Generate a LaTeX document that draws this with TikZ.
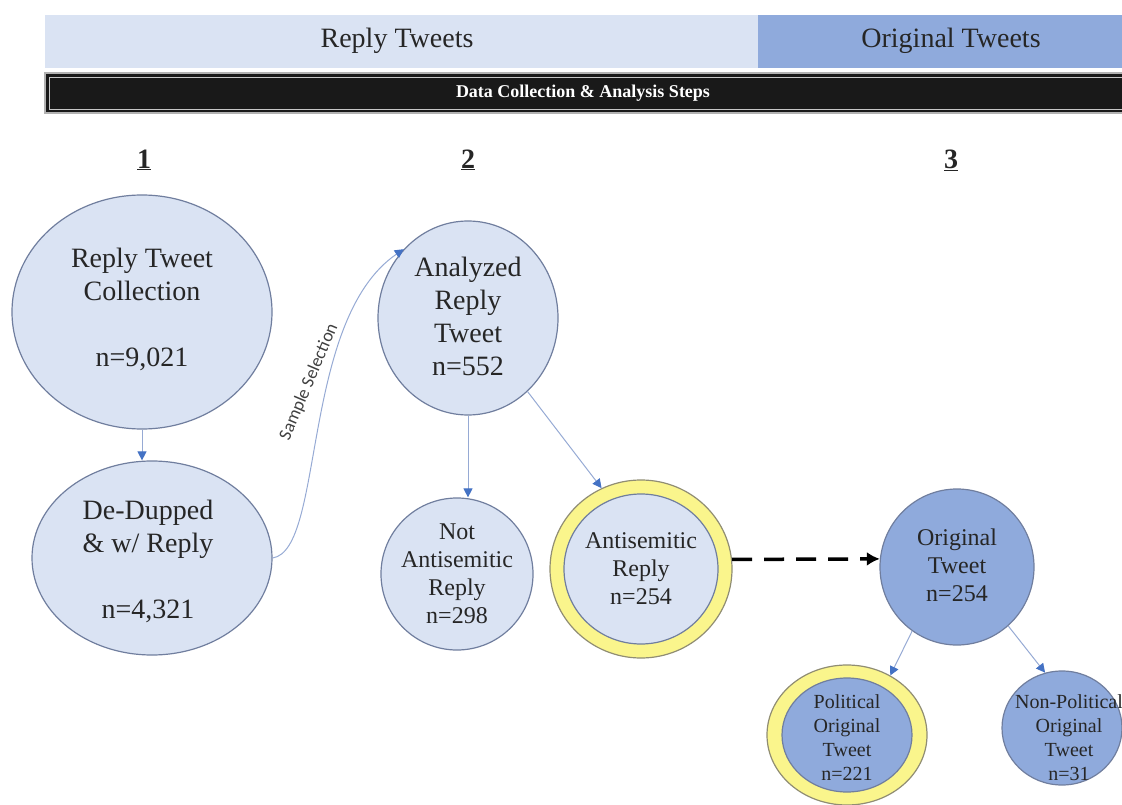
\documentclass[tikz,border=0pt]{standalone}
\usepackage{fontspec}
\setmainfont{Liberation Serif}
\newfontfamily\lblfont{Carlito}
\usetikzlibrary{positioning, arrows.meta, shapes.geometric}
\definecolor{rplb}{RGB}{218,227,243}
\definecolor{orgb}{RGB}{143,170,220}
\definecolor{rimg}{RGB}{112,126,158}
\definecolor{hlyel}{RGB}{250,245,140}
\definecolor{flowb}{RGB}{68,114,196}
\definecolor{flowl}{RGB}{150,170,212}

\tikzset{
  bubble/.style={ellipse, draw=rimg, line width=1.2pt, fill=rplb, inner sep=0pt},
  ring/.style={ellipse, draw=gray!80!olive, line width=1.2pt, fill=hlyel, inner sep=0pt},
  flow/.style={draw=flowl, line width=1pt, -{Triangle[length=9pt,width=9pt,color=flowb]}},
  txtL/.style={font=\fontsize{28}{33}\selectfont, align=center, text=black!85},
  txtM/.style={font=\fontsize{24}{28}\selectfont, align=center, text=black!85},
  txtS/.style={font=\fontsize{20}{24}\selectfont, align=center, text=black!85},
}

\begin{document}
\begin{tikzpicture}[x=1pt, y=-1pt]
  \useasboundingbox (0,0) rectangle (1122,805);
  % header bands
  \draw[fill=rplb, draw=none] (45,15) rectangle (758,68);
  \draw[fill=orgb, draw=none] (758,15) rectangle (1122,68);
  \node[font=\fontsize{28}{30}\selectfont, text=black!85] (hdrReply) at (397,41) {Reply Tweets};
  \node[font=\fontsize{28}{30}\selectfont, text=black!85] (hdrOrig) at (951,41) {Original Tweets};
  \draw[fill=black!90, draw=gray!60, line width=1.5pt] (45,73) rectangle (1126,113);
  \draw[draw=gray!45, line width=0.8pt] (49,77) rectangle (1126,109);
  \node[text=white, font=\bfseries\fontsize{18}{20}\selectfont] (steps) at (583,93)
    {Data Collection \& Analysis Steps};
  % step numbers
  \foreach \n/\x in {1/144, 2/468, 3/951}
    \node[font=\bfseries\fontsize{28}{30}\selectfont, text=black!85] (num\n) at (\x,160) {\underline{\n}};

  % step 1
  \node[bubble, minimum width=260pt, minimum height=234pt] (coll) at (142,312) {};
  \node[txtL] (collTxt) at (142,309) {Reply Tweet\\Collection\\[33pt]n=9,021};
  \node[bubble, minimum width=240pt, minimum height=194pt] (dedup) at (152,558) {};
  \node[txtL] (dedupTxt) at (148,561) {De-Dupped\\\& w/ Reply\\[33pt]n=4,321};

  % step 2
  \node[bubble, minimum width=180pt, minimum height=194pt] (ana) at (468,318) {};
  \node[txtL] (anaTxt) at (468,316) {Analyzed\\Reply\\Tweet\\n=552};
  \node[bubble, minimum width=152pt, minimum height=152pt] (notA) at (457,574) {};
  \node[txtM] (notATxt) at (notA) {Not\\Antisemitic\\Reply\\n=298};
  \node[ring, minimum width=182pt, minimum height=178pt] (anti) at (641,569) {};
  \node[bubble, minimum width=154pt, minimum height=150pt] (antiIn) at (anti) {};
  \node[txtM] (antiTxt) at (antiIn) {Antisemitic\\Reply\\n=254};

  % step 3
  \node[bubble, fill=orgb, minimum width=154pt, minimum height=156pt] (orig) at (957,567) {};
  \node[txtM] (origTxt) at (957,565) {Original\\Tweet\\n=254};
  \node[ring, minimum width=160pt, minimum height=140pt] (pol) at (847,735) {};
  \node[bubble, fill=orgb, minimum width=130pt, minimum height=114pt] (polIn) at (pol) {};
  \node[txtS] (polTxt) at (847,738) {Political\\Original\\Tweet\\n=221};
  \node[bubble, fill=orgb, minimum width=120pt, minimum height=114pt] (nonpol) at (1062,728) {};
  \node[txtS] (nonpolTxt) at (1069,738) {Non-Political\\Original\\Tweet\\n=31};

  % connectors
  \draw[flow] (coll.south) -- (coll.south |- dedup.north);
  \draw[flow] (dedup.east) .. controls (325,550) and (300,320) .. (ana.133);
  \node[font=\lblfont\fontsize{18}{20}\selectfont, rotate=67, text=black!75] (selLbl) at (309,382)
    {Sample Selection};
  \draw[flow] (ana.south) -- (ana.south |- notA.north);
  \draw[flow] (ana.-51) -- (anti.116);
  \draw[line width=3.5pt, dash pattern=on 20pt off 12pt, -{Latex[length=13pt,width=14pt]}]
    (anti.6) -- (orig.174);
  \draw[flow] (orig.-125) -- (pol.54);
  \draw[flow] (orig.-49) -- (nonpol.107);
\end{tikzpicture}
\end{document}
